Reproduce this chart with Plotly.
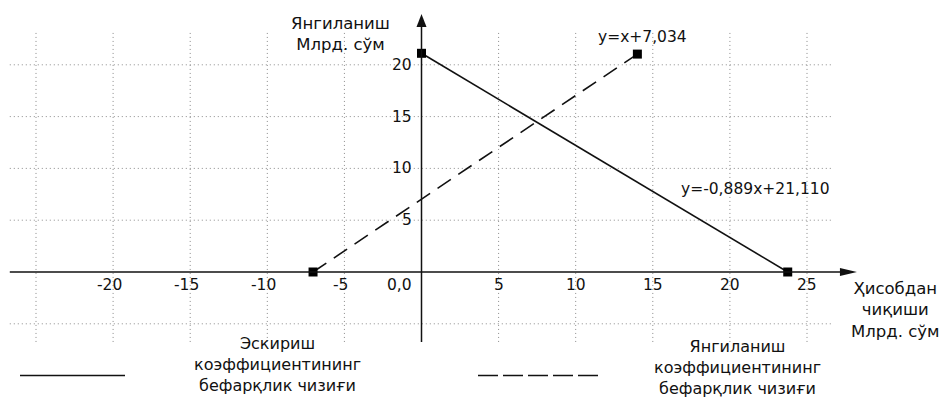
import plotly.graph_objects as go

# Indifference lines, billion sum
wear_x = [0.0, 23.75]
wear_y = [21.110, 0.0]
renew_x = [-7.034, 14.0]
renew_y = [0.0, 21.034]

wear_eq = "y=-0,889x+21,110"
renew_eq = "y=x+7,034"

x_ticks = [-20, -15, -10, -5, 5, 10, 15, 20, 25]
x_tick_text = ["-20", "-15", "-10", "-5", "5", "10", "15", "20", "25"]
y_ticks = [5, 10, 15, 20]
y_tick_text = ["5", "10", "15", "20"]
origin_text = "0,0"

grid_x = [-25, -20, -15, -10, -5, 5, 10, 15, 20, 25]
grid_y = [-5, 5, 10, 15, 20]

y_title = ["Янгиланиш", "Млрд. сўм"]
x_title = ["Ҳисобдан", "чиқиши", "Млрд. сўм"]
wear_legend = ["Эскириш", "коэффициентининг", "бефарқлик чизиғи"]
renew_legend = ["Янгиланиш", "коэффициентининг", "бефарқлик чизиғи"]

# ---- layout geometry -------------------------------------------------------
W, H = 947, 399
X0_PX, X_SCALE = 421.5, 15.42   # pixel of x=0, pixels per unit
Y0_PX, Y_SCALE = 272.0, 10.36   # pixel of y=0, pixels per unit
x_range = [-X0_PX / X_SCALE, (W - X0_PX) / X_SCALE]
y_range = [-(H - Y0_PX) / Y_SCALE, Y0_PX / Y_SCALE]

GRID_X = (-26.7, 26.6)
GRID_Y = (-6.75, 23.1)
X_AXIS_TIP = 28.24
Y_AXIS_TIP = 24.9

FONT = "DejaVu Sans"
INK = "#111111"
GRID = "#8a8a8a"


def px(x):
    return x / W


def py(y):
    return 1 - y / H


fig = go.Figure()

fig.add_trace(go.Scatter(
    x=wear_x, y=wear_y, mode="lines+markers",
    line=dict(color=INK, width=1.6),
    marker=dict(symbol="square", size=9, color="black"),
    hoverinfo="skip", showlegend=False,
))
fig.add_trace(go.Scatter(
    x=renew_x, y=renew_y, mode="lines+markers",
    line=dict(color=INK, width=1.6, dash="16px,9px"),
    marker=dict(symbol="square", size=9, color="black"),
    hoverinfo="skip", showlegend=False,
))

shapes = []
# dotted grid
for gx in grid_x:
    shapes.append(dict(type="line", xref="x", yref="y", x0=gx, x1=gx,
                       y0=GRID_Y[0], y1=GRID_Y[1], layer="below",
                       line=dict(color=GRID, width=1, dash="1px,3px")))
for gy in grid_y:
    shapes.append(dict(type="line", xref="x", yref="y", y0=gy, y1=gy,
                       x0=GRID_X[0], x1=GRID_X[1], layer="below",
                       line=dict(color=GRID, width=1, dash="1px,3px")))

# axes with arrowheads
shapes.append(dict(type="line", xref="x", yref="y", x0=GRID_X[0], x1=X_AXIS_TIP - 0.9,
                   y0=0, y1=0, line=dict(color=INK, width=1.5)))
shapes.append(dict(type="line", xref="x", yref="y", x0=0, x1=0,
                   y0=GRID_Y[0], y1=Y_AXIS_TIP - 1.0, line=dict(color=INK, width=1.5)))
shapes.append(dict(type="path", xref="x", yref="y", xsizemode="pixel", ysizemode="pixel",
                   xanchor=X_AXIS_TIP, yanchor=0, path="M0,0 L-17,4 L-17,-4 Z",
                   fillcolor=INK, line=dict(width=0)))
shapes.append(dict(type="path", xref="x", yref="y", xsizemode="pixel", ysizemode="pixel",
                   xanchor=0, yanchor=Y_AXIS_TIP, path="M0,0 L-5,-13 L5,-13 Z",
                   fillcolor=INK, line=dict(width=0)))

# legend samples
shapes.append(dict(type="line", xref="paper", yref="paper", x0=px(20), x1=px(125),
                   y0=py(375.5), y1=py(375.5), line=dict(color=INK, width=1.6)))
shapes.append(dict(type="line", xref="paper", yref="paper", x0=px(478), x1=px(598),
                   y0=py(375.5), y1=py(375.5),
                   line=dict(color=INK, width=1.6, dash="20px,5px")))

annotations = []


def label(text, x, y, size, xref="paper", yref="paper", xanchor="center",
          yanchor="middle", xshift=0):
    annotations.append(dict(text=text, x=x, y=y, xref=xref, yref=yref,
                            xanchor=xanchor, yanchor=yanchor, xshift=xshift,
                            borderpad=0, showarrow=False,
                            font=dict(family=FONT, size=size, color=INK)))


# tick labels
for v, t in zip(x_ticks, x_tick_text):
    label(t, v, py(285), 15.5, xref="x", xshift=-4 if v < 0 else 0)
label(origin_text, px(399), py(285), 15.5)
for v, t in zip(y_ticks, y_tick_text):
    label(t, px(413), v, 15.5, yref="y", xanchor="right")

# axis titles
label("<br>".join(y_title), px(340), py(33.5), 16.5)
label("<br>".join(x_title), px(895), py(309.5), 16.5)

# equations
label(renew_eq, px(642), py(37), 15.5)
label(wear_eq, px(755), py(189), 15.5)

# legend captions
label("<br>".join(wear_legend), px(277), py(364), 16)
label("<br>".join(renew_legend), px(737), py(398.5), 16, yanchor="bottom")

fig.update_layout(
    width=W, height=H,
    margin=dict(l=0, r=0, t=0, b=0),
    paper_bgcolor="white", plot_bgcolor="white",
    xaxis=dict(range=x_range, visible=False, fixedrange=True),
    yaxis=dict(range=y_range, visible=False, fixedrange=True),
    shapes=shapes, annotations=annotations,
    showlegend=False,
)

fig.write_html("out.html")
